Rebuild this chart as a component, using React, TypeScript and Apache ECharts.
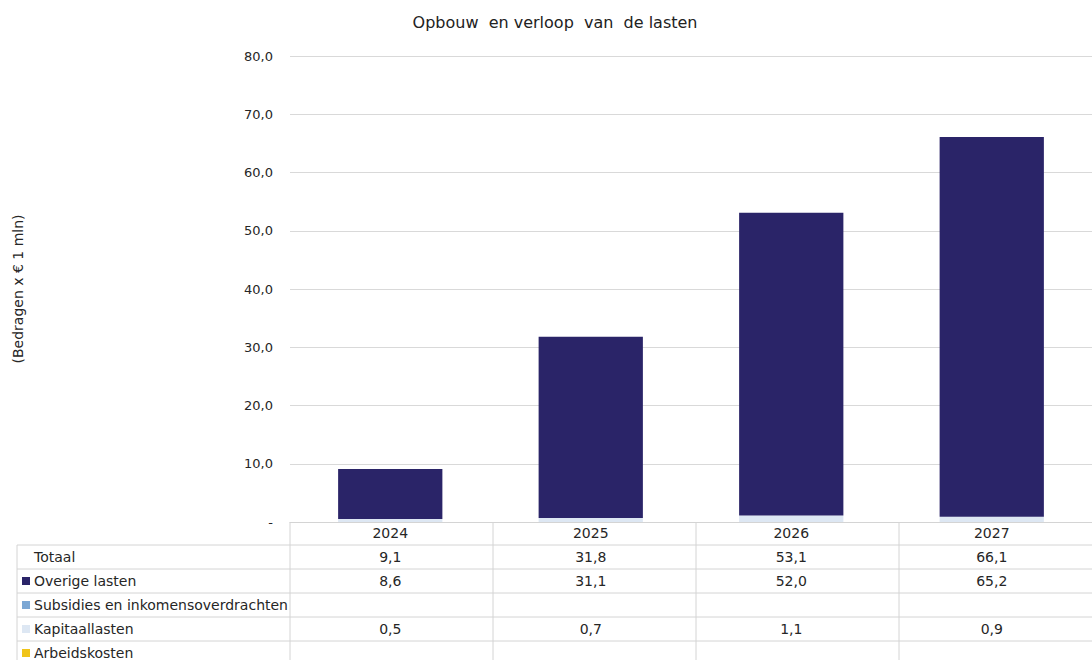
import React, { useEffect, useRef } from "react";
import * as echarts from "echarts";

const years = ["2024", "2025", "2026", "2027"];
const totaal = [9.1, 31.8, 53.1, 66.1];
const overigeLasten = [8.6, 31.1, 52.0, 65.2];
const subsidies: (number | null)[] = [null, null, null, null];
const kapitaallasten = [0.5, 0.7, 1.1, 0.9];
const arbeidskosten: (number | null)[] = [null, null, null, null];
const yTicks = [0, 10, 20, 30, 40, 50, 60, 70, 80];

const title = "Opbouw  en verloop  van  de lasten";
const yName = "(Bedragen x \u20ac 1 mln)";

const FONT = "DejaVu Sans";
const fmt = (v: number | null) => (v == null ? "" : v.toFixed(1).replace(".", ","));

export default function App() {
  const ref = useRef<HTMLDivElement>(null);
  useEffect(() => {
    if (!ref.current) return;
    const chart = echarts.init(ref.current, undefined, { renderer: "svg" });

    const gridLeft = 290;
    const gridTop = 56;
    const gridH = 466;
    const colW = 203;
    const rowH = 24;
    const tableTop = gridTop + gridH; // 522
    const tableBottom = 665;
    const lineColor = "#d4d4d4";
    const textColor = "#262626";
    const tableFont = 14;

    const rows = [
      { name: "Totaal", color: null as string | null, values: totaal },
      { name: "Overige lasten", color: "#2a2468", values: overigeLasten },
      { name: "Subsidies en inkomensoverdrachten", color: "#7ba7d4", values: subsidies },
      { name: "Kapitaallasten", color: "#dde7f3", values: kapitaallasten },
      { name: "Arbeidskosten", color: "#f0c419", values: arbeidskosten },
    ];

    const xAxes: any[] = [
      {
        type: "category",
        data: years,
        gridIndex: 0,
        position: "bottom",
        axisLine: { show: true, lineStyle: { color: lineColor } },
        axisTick: { show: false },
        axisLabel: { margin: 4, fontFamily: FONT, fontSize: tableFont, color: textColor },
      },
    ];
    rows.forEach((r, i) => {
      xAxes.push({
        type: "category",
        data: years,
        gridIndex: 0,
        position: "bottom",
        offset: (i + 1) * rowH,
        axisLine: { show: false },
        axisTick: { show: false },
        axisLabel: {
          margin: 4,
          fontFamily: FONT,
          fontSize: tableFont,
          color: textColor,
          formatter: (_v: string, idx: number) => fmt(r.values[idx] as number | null),
        },
      });
    });

    const graphics: any[] = [];
    for (let i = 1; i <= 6; i++) {
      const y = tableTop + i * rowH - 1;
      graphics.push({
        type: "line",
        shape: { x1: 17, y1: y, x2: 1092, y2: y },
        style: { stroke: lineColor, lineWidth: 1 },
        silent: true,
      });
    }
    graphics.push({
      type: "line",
      shape: { x1: 17, y1: tableTop + rowH - 1, x2: 17, y2: tableBottom },
      style: { stroke: lineColor, lineWidth: 1 },
    });
    for (let c = 0; c < 4; c++) {
      const x = gridLeft + c * colW;
      graphics.push({
        type: "line",
        shape: { x1: x, y1: tableTop, x2: x, y2: tableBottom },
        style: { stroke: lineColor, lineWidth: 1 },
      });
    }
    rows.forEach((r, i) => {
      const cy = tableTop + (i + 1) * rowH + 11;
      if (r.color) {
        graphics.push({
          type: "rect",
          shape: { x: 22, y: cy - 4, width: 8, height: 8 },
          style: { fill: r.color },
        });
      }
      graphics.push({
        type: "text",
        x: 34,
        y: cy,
        style: {
          text: r.name,
          fontFamily: FONT,
          fontSize: tableFont,
          fill: textColor,
          verticalAlign: "middle",
          align: "left",
        },
      });
    });

    const stackOrder = [
      { name: "Arbeidskosten", data: arbeidskosten, color: "#f0c419" },
      { name: "Kapitaallasten", data: kapitaallasten, color: "#dde7f3" },
      { name: "Subsidies en inkomensoverdrachten", data: subsidies, color: "#7ba7d4" },
      { name: "Overige lasten", data: overigeLasten, color: "#2a2468" },
    ];

    chart.setOption({
      animation: false,
      backgroundColor: "#ffffff",
      title: {
        text: title,
        left: 550,
        top: 9,
        textAlign: "center",
        textStyle: { fontFamily: FONT, fontSize: 16, fontWeight: "normal", color: "#222222" },
      },
      grid: { left: gridLeft, top: gridTop, width: colW * 4, height: gridH, containLabel: false },
      xAxis: xAxes,
      yAxis: {
        type: "value",
        min: 0,
        max: 80,
        interval: 10,
        name: yName,
        nameLocation: "middle",
        nameRotate: 90,
        nameGap: 265,
        nameTextStyle: { fontFamily: FONT, fontSize: 14, color: textColor },
        axisLine: { show: false },
        axisTick: { show: false },
        axisLabel: {
          margin: 17,
          fontFamily: FONT,
          fontSize: 13,
          color: textColor,
          formatter: (v: number) => (yTicks.includes(v) ? (v === 0 ? "-" : fmt(v)) : ""),
        },
        splitLine: { lineStyle: { color: "#d9d9d9" } },
      },
      series: stackOrder.map((s) => ({
        type: "bar",
        name: s.name,
        stack: "lasten",
        xAxisIndex: 0,
        data: s.data,
        barWidth: "52%",
        itemStyle: { color: s.color },
      })),
      graphic: graphics,
    });
    return () => chart.dispose();
  }, []);
  return (
    <div
      ref={ref}
      style={{ position: "fixed", left: 0, top: 0, width: 1092, height: 660, background: "#fff" }}
    />
  );
}
